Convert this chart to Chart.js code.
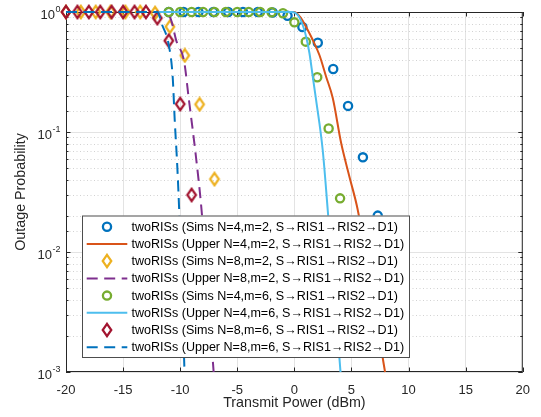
<!DOCTYPE html>
<html>
<head>
<meta charset="utf-8">
<title>Outage probability vs transmit power</title>
<script src="https://cdn.jsdelivr.net/npm/chart.js@4.4.1/dist/chart.umd.min.js"></script>
<style>
  html, body { margin: 0; padding: 0; background: #fff; }
  #wrap { width: 541px; height: 417px; }
</style>
</head>
<body>
<div id="wrap"><canvas id="outageChart" width="541" height="417"></canvas></div>
<script>
// ---------------------------------------------------------------------------
// Data
// ---------------------------------------------------------------------------
const ARROW = '\u2192';
const seriesLabels = [
  `twoRISs (Sims N=4,m=2, S${ARROW}RIS1${ARROW}RIS2${ARROW}D1)`,
  `twoRISs (Upper N=4,m=2, S${ARROW}RIS1${ARROW}RIS2${ARROW}D1)`,
  `twoRISs (Sims N=8,m=2, S${ARROW}RIS1${ARROW}RIS2${ARROW}D1)`,
  `twoRISs (Upper N=8,m=2, S${ARROW}RIS1${ARROW}RIS2${ARROW}D1)`,
  `twoRISs (Sims N=4,m=6, S${ARROW}RIS1${ARROW}RIS2${ARROW}D1)`,
  `twoRISs (Upper N=4,m=6, S${ARROW}RIS1${ARROW}RIS2${ARROW}D1)`,
  `twoRISs (Sims N=8,m=6, S${ARROW}RIS1${ARROW}RIS2${ARROW}D1)`,
  `twoRISs (Upper N=8,m=6, S${ARROW}RIS1${ARROW}RIS2${ARROW}D1)`
];

// sims, N=4, m=2 (blue circles)
const sims4m2X = [-11.0, -9.7, -8.4, -7.1, -5.8, -4.5, -3.2, -1.9, -0.6, 0.7, 2.05, 3.4, 4.7, 6.0, 7.3];
const sims4m2Y = [1, 1, 1, 1, 1, 1, 1, 0.99, 0.93, 0.75, 0.555, 0.335, 0.165, 0.0615, 0.0201];

// upper bound, N=4, m=2 (orange line)
const upper4m2X = [-12, 0, 0.59, 1.17, 1.61, 2.19, 2.78, 3.36, 4.10, 4.82, 5.55, 7.94];
const upper4m2Y = [1, 1, 0.886, 0.708, 0.584, 0.438, 0.289, 0.192, 0.0805, 0.0424, 0.0224, 0.001];

// sims, N=8, m=2 (yellow diamonds)
const sims8m2X = [-20, -18.7, -17.4, -16.1, -14.8, -13.5, -12.2, -10.9, -9.6, -8.3, -7.0];
const sims8m2Y = [1, 1, 1, 1, 1, 1, 0.98, 0.755, 0.435, 0.17, 0.0405];

// upper bound, N=8, m=2 (purple dashes)
const upper8m2X = [-20, -11.3, -10.8, -10.35, -9.65, -9.27, -8.62, -8.13, -7.07];
const upper8m2Y = [1, 1, 0.86, 0.58, 0.385, 0.197, 0.0622, 0.0224, 0.001];

// sims, N=4, m=6 (green circles)
const sims4m6X = [-11, -10, -9, -8, -7, -6, -5, -4, -3, -2, -1, 0, 1, 2, 3, 4];
const sims4m6Y = [1, 1, 1, 1, 1, 1, 1, 1, 1, 0.995, 0.975, 0.82, 0.566, 0.286, 0.107, 0.028];

// upper bound, N=4, m=6 (light blue line)
const upper4m6X = [-12, -0.2, 0.29, 0.73, 1.03, 1.32, 1.61, 1.90, 2.48, 2.92, 4.04];
const upper4m6Y = [1, 1, 0.944, 0.779, 0.623, 0.453, 0.289, 0.185, 0.0708, 0.0224, 0.001];

// sims, N=8, m=6 (dark red diamonds)
const sims8m6X = [-20, -19, -18, -17, -16, -15, -14, -13, -12, -11, -10, -9];
const sims8m6Y = [1, 1, 1, 1, 1, 1, 1, 1, 0.89, 0.577, 0.171, 0.0299];

// upper bound, N=8, m=6 (blue dashes)
const upper8m6X = [-20, -12.0, -11.6, -11.0, -10.66, -10.48, -10.26, -10.09, -9.62];
const upper8m6Y = [1, 1, 0.79, 0.53, 0.29, 0.126, 0.053, 0.0224, 0.001];

// axes
const xMin = -20, xMax = 20, xStep = 5;
const yDecades = [1, 0.1, 0.01, 0.001];
const yDecadeExp = ['0', '-1', '-2', '-3'];

// ---------------------------------------------------------------------------
// Styling
// ---------------------------------------------------------------------------
const FONT = '"Liberation Sans", Arial, Helvetica, sans-serif';
const INK = '#262626';
const GRID = '#e3e3e3';
const MINOR = '#d2d2d2';
const DASH = [11, 6.5];

const C = {
  blue: '#0072BD', orange: '#D95319', yellow: '#EDB120', purple: '#7E2F8E',
  green: '#77AC30', cyan: '#4DBEEE', red: '#A2142F'
};

// MATLAB diamonds are a little taller than wide, so draw our own sprite
function makeDiamond(color) {
  const c = document.createElement('canvas');
  c.width = 14; c.height = 16;
  const g = c.getContext('2d');
  g.strokeStyle = color;
  g.lineWidth = 2.2;
  g.lineJoin = 'miter';
  g.beginPath();
  g.moveTo(7, 1.8);
  g.lineTo(11.3, 8);
  g.lineTo(7, 14.2);
  g.lineTo(2.7, 8);
  g.closePath();
  g.stroke();
  return c;
}
const yellowDiamond = makeDiamond(C.yellow);
const redDiamond = makeDiamond(C.red);

// legend sample per series: marker kind or line kind
const legendKinds = [
  { kind: 'circle', color: C.blue },
  { kind: 'line', color: C.orange },
  { kind: 'diamond', img: yellowDiamond },
  { kind: 'dash', color: C.purple },
  { kind: 'circle', color: C.green },
  { kind: 'line', color: C.cyan },
  { kind: 'diamond', img: redDiamond },
  { kind: 'dash', color: C.blue }
];

const CIRCLE_R = 4.1;
const CIRCLE_W = 2.3;

function pts(xs, ys) {
  return xs.map((x, i) => ({ x: x, y: ys[i] }));
}

function simSet(label, xs, ys, color, style, order) {
  return {
    label: label,
    data: pts(xs, ys),
    showLine: false,
    borderColor: color,
    backgroundColor: 'rgba(0,0,0,0)',
    pointStyle: style,
    pointRadius: style === 'circle' ? CIRCLE_R : 6,
    pointBorderWidth: CIRCLE_W,
    pointBorderColor: color,
    pointBackgroundColor: 'rgba(0,0,0,0)',
    clip: false,
    order: order
  };
}

function boundSet(label, xs, ys, color, dash, order) {
  return {
    label: label,
    data: pts(xs, ys),
    borderColor: color,
    borderWidth: 2,
    borderDash: dash,
    pointRadius: 0,
    fill: false,
    cubicInterpolationMode: 'monotone',
    clip: false,
    order: order
  };
}

function isDecade(v) {
  const l = Math.log10(v);
  return Math.abs(l - Math.round(l)) < 1e-6;
}

// later series drawn on top, like MATLAB (lower order = drawn later)
const datasets = [
  simSet(seriesLabels[0], sims4m2X, sims4m2Y, C.blue, 'circle', 8),
  boundSet(seriesLabels[1], upper4m2X, upper4m2Y, C.orange, [], 7),
  simSet(seriesLabels[2], sims8m2X, sims8m2Y, C.yellow, yellowDiamond, 6),
  boundSet(seriesLabels[3], upper8m2X, upper8m2Y, C.purple, DASH, 5),
  simSet(seriesLabels[4], sims4m6X, sims4m6Y, C.green, 'circle', 4),
  boundSet(seriesLabels[5], upper4m6X, upper4m6Y, C.cyan, [], 3),
  simSet(seriesLabels[6], sims8m6X, sims8m6Y, C.red, redDiamond, 2),
  boundSet(seriesLabels[7], upper8m6X, upper8m6Y, C.blue, DASH, 1)
];

// ---------------------------------------------------------------------------
// Plugins: minor grid + box/ticks, y decade labels, inset legend
// ---------------------------------------------------------------------------
const axesFrame = {
  id: 'axesFrame',
  beforeDatasetsDraw(chart) {
    const { ctx, chartArea: a, scales: { x, y } } = chart;
    ctx.save();

    // dotted minor grid on the log axis
    ctx.strokeStyle = MINOR;
    ctx.lineWidth = 1;
    ctx.setLineDash([1, 2.5]);
    y.ticks.forEach((t) => {
      if (isDecade(t.value)) return;
      const py = Math.round(y.getPixelForValue(t.value)) + 0.5;
      ctx.beginPath();
      ctx.moveTo(a.left, py);
      ctx.lineTo(a.right, py);
      ctx.stroke();
    });
    ctx.setLineDash([]);

    // box
    ctx.strokeStyle = INK;
    ctx.lineWidth = 1;
    ctx.strokeRect(a.left + 0.5, a.top + 0.5, a.right - a.left - 1, a.bottom - a.top - 1);

    // inward ticks
    ctx.beginPath();
    for (let v = xMin; v <= xMax; v += xStep) {
      const px = Math.round(x.getPixelForValue(v)) + 0.5;
      ctx.moveTo(px, a.bottom); ctx.lineTo(px, a.bottom - 4.5);
      ctx.moveTo(px, a.top); ctx.lineTo(px, a.top + 4.5);
    }
    y.ticks.forEach((t) => {
      const len = isDecade(t.value) ? 4.5 : 2.5;
      const py = Math.round(y.getPixelForValue(t.value)) + 0.5;
      ctx.moveTo(a.left, py); ctx.lineTo(a.left + len, py);
      ctx.moveTo(a.right, py); ctx.lineTo(a.right - len, py);
    });
    ctx.stroke();

    // decade labels 10^n
    ctx.fillStyle = INK;
    ctx.textBaseline = 'middle';
    ctx.textAlign = 'left';
    const baseFont = `13px ${FONT}`;
    const expFont = `9px ${FONT}`;
    yDecades.forEach((v, i) => {
      const py = y.getPixelForValue(v);
      ctx.font = baseFont;
      const wb = ctx.measureText('10').width;
      ctx.font = expFont;
      const we = ctx.measureText(yDecadeExp[i]).width;
      const x0 = a.left - 6 - wb - we;
      ctx.font = baseFont;
      ctx.fillText('10', x0, py + 3.5);
      ctx.font = expFont;
      ctx.fillText(yDecadeExp[i], x0 + wb + 0.5, py - 2.5);
    });

    ctx.restore();
  }
};

const insetLegend = {
  id: 'insetLegend',
  afterDraw(chart) {
    const ctx = chart.ctx;
    const box = { left: 82, top: 215.5, right: 410, bottom: 358 };
    const rowH = 17.2;
    const firstRow = 226.8;
    const lineFrom = 86.7, lineTo = 127.3, markX = 107, textX = 131.5;

    ctx.save();
    ctx.fillStyle = '#ffffff';
    ctx.fillRect(box.left, box.top, box.right - box.left, box.bottom - box.top);
    ctx.strokeStyle = '#4d4d4d';
    ctx.lineWidth = 1;
    ctx.strokeRect(box.left + 0.5, box.top + 0.5, box.right - box.left - 1, box.bottom - box.top - 1);

    // fit the font so the widest entry spans the same width as in the figure
    ctx.font = `12px ${FONT}`;
    const w12 = ctx.measureText(seriesLabels[1]).width;
    const size = Math.max(10, Math.min(14, 12 * 273 / w12));
    const legendFont = `${size.toFixed(2)}px ${FONT}`;

    legendKinds.forEach((k, i) => {
      const cy = firstRow + i * rowH;
      if (k.kind === 'line' || k.kind === 'dash') {
        ctx.strokeStyle = k.color;
        ctx.lineWidth = 2;
        ctx.setLineDash(k.kind === 'dash' ? DASH : []);
        ctx.beginPath();
        ctx.moveTo(lineFrom, cy);
        ctx.lineTo(lineTo, cy);
        ctx.stroke();
        ctx.setLineDash([]);
      } else if (k.kind === 'circle') {
        ctx.strokeStyle = k.color;
        ctx.lineWidth = CIRCLE_W;
        ctx.beginPath();
        ctx.arc(markX, cy, CIRCLE_R, 0, Math.PI * 2);
        ctx.stroke();
      } else {
        ctx.drawImage(k.img, Math.round(markX - 7), Math.round(cy - 8));
      }
      ctx.fillStyle = '#000';
      ctx.font = legendFont;
      ctx.textBaseline = 'middle';
      ctx.textAlign = 'left';
      ctx.fillText(seriesLabels[i], textX, cy + 0.5);
    });
    ctx.restore();
  }
};

// ---------------------------------------------------------------------------
// Chart
// ---------------------------------------------------------------------------
const ctx = document.getElementById('outageChart').getContext('2d');

new Chart(ctx, {
  type: 'line',
  data: { datasets: datasets },
  options: {
    responsive: false,
    animation: false,
    events: [],
    layout: { padding: { left: 0, top: 12, right: 18, bottom: 0 } },
    plugins: {
      legend: { display: false },
      tooltip: { enabled: false }
    },
    scales: {
      x: {
        type: 'linear',
        min: xMin,
        max: xMax,
        ticks: {
          stepSize: xStep,
          color: INK,
          font: { family: FONT, size: 13 },
          padding: 11,
          maxRotation: 0,
          autoSkip: false
        },
        grid: { color: GRID, drawTicks: false },
        border: { display: false },
        title: {
          display: true,
          text: 'Transmit Power (dBm)',
          color: INK,
          font: { family: FONT, size: 14.3 },
          padding: { top: 0, bottom: 5 }
        },
        afterFit: (s) => { s.height = 45; }
      },
      y: {
        type: 'logarithmic',
        min: 0.001,
        max: 1,
        ticks: { display: false, autoSkip: false },
        grid: {
          color: (c) => (c.tick && isDecade(c.tick.value) ? GRID : 'rgba(0,0,0,0)'),
          drawTicks: false
        },
        border: { display: false },
        title: {
          display: true,
          text: 'Outage Probability',
          color: INK,
          font: { family: FONT, size: 14.3 },
          padding: { top: 12, bottom: 0 }
        },
        afterFit: (s) => { s.width = 66; }
      }
    }
  },
  plugins: [axesFrame, insetLegend]
});
</script>
</body>
</html>
